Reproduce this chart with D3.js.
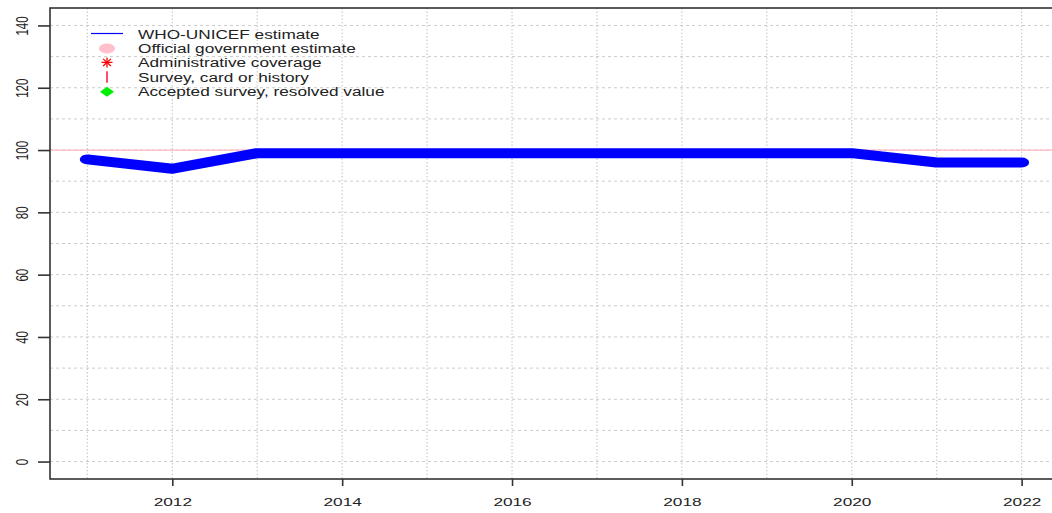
<!DOCTYPE html>
<html><head><meta charset="utf-8">
<script src="https://cdn.jsdelivr.net/npm/d3@7"></script>
<style>body{margin:0;background:#fff}svg{display:block}</style>
</head><body>
<svg id="c" width="1052" height="513"></svg>
<script>
const years = [2011,2012,2013,2014,2015,2016,2017,2018,2019,2020,2021,2022];
const whoUnicef = [97,94,99,99,99,99,99,99,99,99,96,96];
const officialLine = 100;
const yTicks = [0,20,40,60,80,100,120,140];
const xTicks = [2012,2014,2016,2018,2020,2022];
const legendLabels = ["WHO-UNICEF estimate","Official government estimate","Administrative coverage","Survey, card or history","Accepted survey, resolved value"];

const svg = d3.select("#c");
const L = 50, R = 1059, T = 8, B = 479;
const SX = 1.5; // horizontal stretch of the original picture
const SXL = 1.4; // legend text stretch
const x = d3.scaleLinear().domain([2010.56, 2022.44]).range([L, R]);
const y = d3.scaleLinear().domain([-5.6, 145.6]).range([B, T]);
const font = "Liberation Sans, Arial, sans-serif";

// grid
const g = svg.append("g");
d3.range(2011, 2024).forEach(v => {
  g.append("line").attr("x1", x(v)).attr("x2", x(v)).attr("y1", T).attr("y2", B)
   .attr("stroke", "#cccccc").attr("stroke-dasharray", "1.5,2").attr("stroke-width", 1.2);
});
d3.range(0, 150, 10).forEach(v => {
  g.append("line").attr("x1", L).attr("x2", R).attr("y1", y(v)).attr("y2", y(v))
   .attr("stroke", "#cccccc").attr("stroke-dasharray", "3,3").attr("stroke-width", 1);
});

// official line
svg.append("line").attr("x1", L).attr("x2", R).attr("y1", y(officialLine)).attr("y2", y(officialLine))
  .attr("stroke", "#ffb6c1").attr("stroke-width", 1.2);

// WHO-UNICEF line (drawn in unstretched space then stretched horizontally for rounded caps)
const lineG = svg.append("g").attr("transform", `translate(${L},0) scale(${SX},1) translate(${-L},0)`);
lineG.append("path").datum(years.map((d,i)=>[d, whoUnicef[i]]))
  .attr("d", d3.line().x(d=>L + (x(d[0])-L)/SX).y(d=>y(d[1])))
  .attr("fill", "none").attr("stroke", "#0000ff").attr("stroke-width", 10)
  .attr("stroke-linejoin", "round").attr("stroke-linecap", "round");

// box
svg.append("rect").attr("x", L).attr("y", T).attr("width", R-L).attr("height", B-T)
  .attr("fill", "none").attr("stroke", "#333").attr("stroke-width", 1.6);

// axes
const xa = svg.append("g").attr("transform", `translate(0,${B})`)
  .call(d3.axisBottom(x).tickValues(xTicks).tickFormat(d3.format("d")).tickSize(7).tickSizeOuter(0));
xa.select(".domain").remove();
xa.selectAll("line").attr("stroke", "#333").attr("stroke-width", 1.6);
xa.selectAll("text").attr("font-family", font).attr("font-size", 11.5).attr("fill", "#222")
  .attr("y", 0).attr("dy", 0).attr("transform", `translate(0,27) scale(${SX},1)`);

const ya = svg.append("g").attr("transform", `translate(${L},0)`)
  .call(d3.axisLeft(y).tickValues(yTicks).tickSize(12).tickSizeOuter(0));
ya.select(".domain").remove();
ya.selectAll("line").attr("stroke", "#333").attr("stroke-width", 1.6);
ya.selectAll("text").attr("font-family", font).attr("font-size", 11.5).attr("fill", "#222")
  .attr("text-anchor", "middle").attr("x", 0).attr("dy", 0).attr("y", 0)
  .attr("transform", `translate(-28,0) scale(${SX},1) rotate(-90) translate(0,4)`);

// legend
const lg = svg.append("g");
const sx = 107, tx = 138;
const rowY = i => 34 + i*14.45;
lg.append("line").attr("x1", 91).attr("x2", 123).attr("y1", rowY(0)-0.5).attr("y2", rowY(0)-0.5).attr("stroke", "#0000ff").attr("stroke-width", 1.2);
lg.append("ellipse").attr("cx", sx).attr("cy", rowY(1)).attr("rx", 8).attr("ry", 5).attr("fill", "#ffc0cb");
// asterisk
const ast = lg.append("g").attr("transform", `translate(${sx},${rowY(2)-0.5})`);
[0,45,90,135].forEach(a => {
  const r = Math.PI*a/180;
  ast.append("line").attr("x1", -5.5*Math.cos(r)).attr("x2", 5.5*Math.cos(r))
    .attr("y1", -5*Math.sin(r)).attr("y2", 5*Math.sin(r)).attr("stroke", "#ff0000").attr("stroke-width", 1.3);
});
lg.append("line").attr("x1", sx).attr("x2", sx).attr("y1", rowY(3)-6).attr("y2", rowY(3)+5.5).attr("stroke", "#ff2050").attr("stroke-width", 1.6);
lg.append("path").attr("d", "M0,-5L7,0L0,5L-7,0Z").attr("transform", `translate(${sx},${rowY(4)})`).attr("fill", "#00ee00");
legendLabels.forEach((t,i) => {
  lg.append("text").attr("x", 0).attr("y", 0)
    .attr("transform", `translate(${tx},${rowY(i)+4.5}) scale(${SXL},1)`)
    .attr("font-family", font).attr("font-size", 12.3).attr("fill", "#222").text(t);
});
</script>
</body></html>
